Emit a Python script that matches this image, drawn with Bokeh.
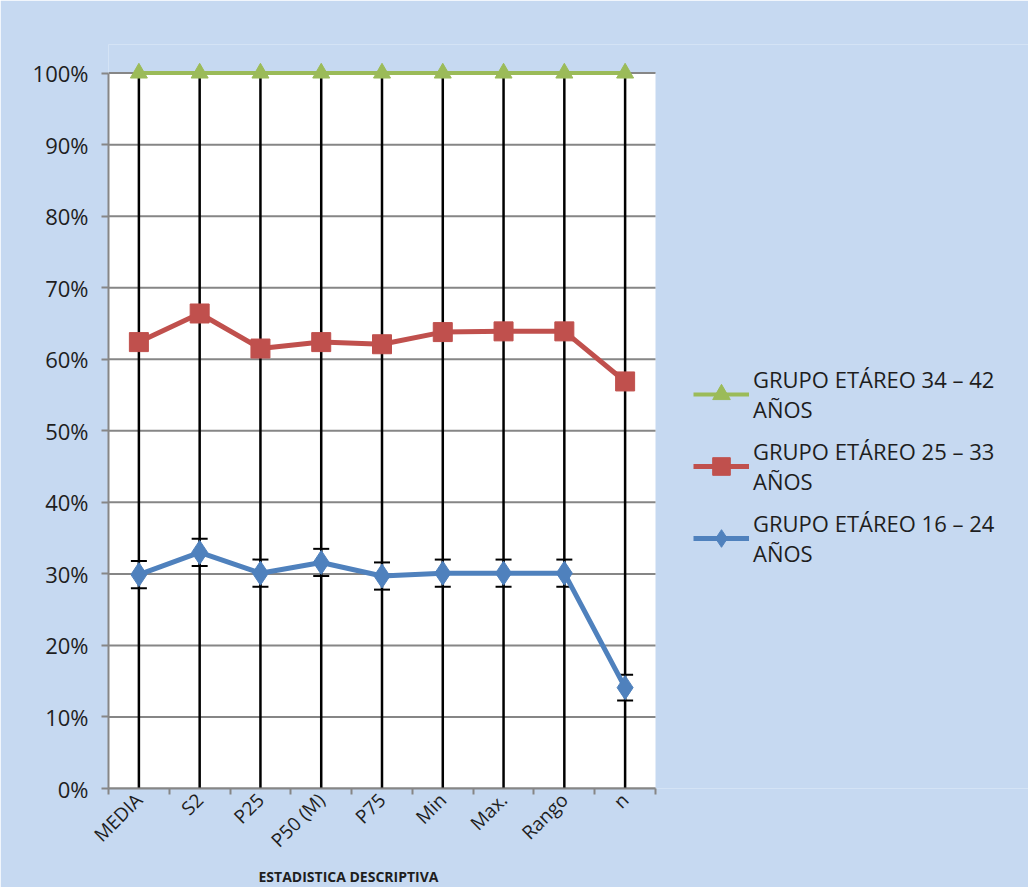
import math
from bokeh.plotting import figure
from bokeh.models import (ColumnDataSource, Range1d, FixedTicker, NumeralTickFormatter,
                          Whisker, TeeHead, Legend, LegendItem, BoxAnnotation, Title)
from bokeh.embed import file_html
from bokeh.resources import INLINE

categories = ["MEDIA", "S2", "P25", "P50 (M)", "P75", "Min", "Max.", "Rango", "n"]
grupo_34_42 = [1.00, 1.00, 1.00, 1.00, 1.00, 1.00, 1.00, 1.00, 1.00]
grupo_25_33 = [0.624, 0.664, 0.615, 0.624, 0.621, 0.638, 0.639, 0.639, 0.569]
grupo_16_24 = [0.299, 0.330, 0.301, 0.316, 0.297, 0.301, 0.301, 0.301, 0.141]
error_16_24 = [0.019, 0.019, 0.019, 0.019, 0.019, 0.019, 0.019, 0.019, 0.018]
y_ticks = [0.0, 0.1, 0.2, 0.3, 0.4, 0.5, 0.6, 0.7, 0.8, 0.9, 1.0]

labels = ["GRUPO ETÁREO 34 – 42\nAÑOS", "GRUPO ETÁREO 25 – 33\nAÑOS", "GRUPO ETÁREO 16 – 24\nAÑOS"]
x_title = "ESTADISTICA DESCRIPTIVA"

n = len(categories)
xs = [i + 0.5 for i in range(n)]
bounds_x = [float(i) for i in range(n + 1)]

src = ColumnDataSource(dict(
    x=xs, g3=grupo_34_42, g2=grupo_25_33, g1=grupo_16_24,
    zero=[0.0] * n,
    lo=[v - e for v, e in zip(grupo_16_24, error_16_24)],
    hi=[v + e for v, e in zip(grupo_16_24, error_16_24)],
))
grid_src = ColumnDataSource(dict(y=y_ticks, x0=[0.0] * len(y_ticks), x1=[float(n)] * len(y_ticks)))

FONT = "Open Sans"
BG = "#C6D9F1"
GREEN = "#9BBB59"
RED = "#C0504D"
BLUE = "#4F81BD"
GRAY = "#868686"
TXT = "#1E1E1E"

# frame spans from x=108 to the right edge; categories occupy the first 547 px
FRAME_W = 1028 - 108
x_end = n * FRAME_W / 547.0

p = figure(width=1028, height=887, output_backend="svg", toolbar_location=None,
           x_range=Range1d(0, x_end), y_range=Range1d(0, 1.04),
           min_border_left=108, min_border_right=0, min_border_top=44, min_border_bottom=99)
p.border_fill_color = BG
p.background_fill_color = BG
p.outline_line_color = None
p.add_layout(BoxAnnotation(bottom=0, top=1, left=0, right=n,
                           fill_color="white", fill_alpha=1, line_color=None, level="underlay"))

# grid (only across the category area)
p.xgrid.grid_line_color = None
p.ygrid.grid_line_color = None
p.segment(x0="x0", y0="y", x1="x1", y1="y", source=grid_src, line_color=GRAY, line_width=2)

# y axis
p.yaxis.ticker = FixedTicker(ticks=y_ticks)
p.yaxis.formatter = NumeralTickFormatter(format="0%")
p.yaxis.bounds = (0, 1)
p.yaxis.axis_line_color = GRAY
p.yaxis.axis_line_width = 2
p.yaxis.major_tick_line_color = GRAY
p.yaxis.major_tick_line_width = 2
p.yaxis.major_tick_out = 7
p.yaxis.major_tick_in = 0
p.yaxis.minor_tick_line_color = None
p.yaxis.major_label_text_font = FONT
p.yaxis.major_label_text_font_size = "22px"
p.yaxis.major_label_text_color = TXT
p.yaxis.major_label_standoff = 13

# x axis
p.xaxis.ticker = FixedTicker(ticks=xs, minor_ticks=bounds_x)
p.xaxis.bounds = (0, n)
p.xaxis.major_label_overrides = {x: c for x, c in zip(xs, categories)}
p.xaxis.major_label_orientation = math.pi / 4
p.xaxis.axis_line_color = GRAY
p.xaxis.axis_line_width = 2
p.xaxis.major_tick_line_color = None
p.xaxis.minor_tick_line_color = GRAY
p.xaxis.minor_tick_line_width = 2
p.xaxis.minor_tick_out = 6
p.xaxis.minor_tick_in = 0
p.xaxis.major_label_text_font = FONT
p.xaxis.major_label_text_font_size = "19px"
p.xaxis.major_label_text_color = TXT
p.xaxis.major_label_standoff = 2

p.add_layout(Title(text=x_title, align="left", offset=150, text_font=FONT,
                   text_font_size="14px", text_font_style="bold", text_color=TXT,
                   standoff=0), "below")

# drop lines
p.segment(x0="x", y0="zero", x1="x", y1="g3", source=src, line_color="black", line_width=2.5)

# series
l1 = p.line("x", "g1", source=src, line_color=BLUE, line_width=5)
m1 = p.scatter("x", "g1", source=src, marker="diamond", size=24, fill_color=BLUE, line_color=BLUE)
p.add_layout(Whisker(source=src, base="x", lower="lo", upper="hi", line_color="black", line_width=2,
                     upper_head=TeeHead(size=16, line_color="black", line_width=2),
                     lower_head=TeeHead(size=16, line_color="black", line_width=2)))
l2 = p.line("x", "g2", source=src, line_color=RED, line_width=5)
m2 = p.scatter("x", "g2", source=src, marker="square", size=19, fill_color=RED, line_color=RED)
l3 = p.line("x", "g3", source=src, line_color=GREEN, line_width=4)
m3 = p.scatter("x", "g3", source=src, marker="triangle", size=17, fill_color=GREEN, line_color=GREEN)

legend = Legend(items=[
    LegendItem(label=labels[0], renderers=[l3, m3]),
    LegendItem(label=labels[1], renderers=[l2, m2]),
    LegendItem(label=labels[2], renderers=[l1, m1]),
], location=(585, 220))
legend.background_fill_alpha = 0
legend.border_line_color = None
legend.label_text_font = FONT
legend.label_text_font_size = "22px"
legend.label_text_color = TXT
legend.glyph_width = 56
legend.glyph_height = 44
legend.label_standoff = 4
legend.spacing = 12
legend.margin = 0
legend.padding = 0
p.add_layout(legend, "center")

open("out.html", "w").write(file_html(p, INLINE))
